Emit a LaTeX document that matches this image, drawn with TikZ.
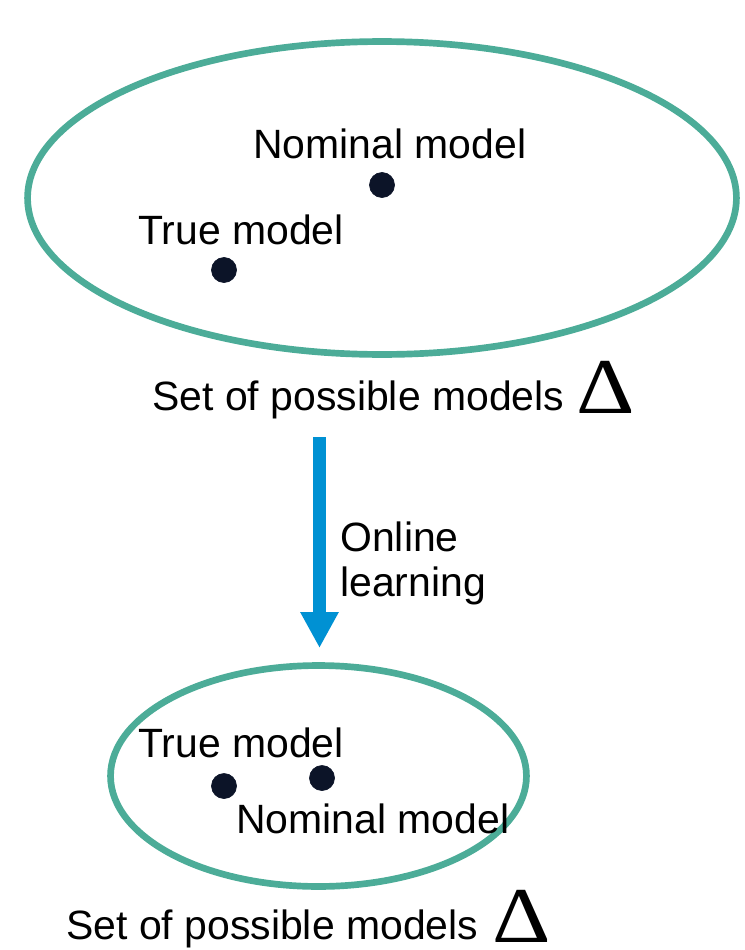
\documentclass[tikz,border=0pt]{standalone}
\usepackage{fontspec}
\setmainfont{Liberation Sans}
\newfontfamily\deltafont{Liberation Serif}
\usetikzlibrary{arrows.meta, shapes.geometric}
\definecolor{setgreen}{RGB}{76,172,152}
\definecolor{arrowblue}{RGB}{0,145,211}
\definecolor{dotnavy}{RGB}{12,20,40}

\begin{document}
\begin{tikzpicture}[x=0.02cm,y=-0.02cm,
  set node/.style={ellipse,draw=setgreen,line width=3.8pt,inner sep=0pt},
  model node/.style={circle,fill=dotnavy,draw=dotnavy,inner sep=0pt,minimum size=0.5cm},
  text node/.style={anchor=base west,inner sep=0pt,font=\fontsize{23.3}{28}\selectfont},
  delta node/.style={anchor=base west,inner sep=0pt,font=\fontsize{45}{46}\deltafont}]
  \useasboundingbox (0,0) rectangle (744,950);
  % before learning
  \node[set node, minimum width=14.18cm, minimum height=6.26cm] (bigset) at (382,198) {};
  \node[model node] (nom1) at (382,185) {};
  \node[model node] (true1) at (224,270) {};
  \node[text node] (nomtext1) at (253,158) {Nominal model};
  \node[text node] (truetext1) at (138,244) {True model};
  \node[text node] (settext1) at (152,410) {Set of possible models};
  \node[delta node] (delta1) at (576,413) {\scalebox{1.15}[1]{Δ}};
  % learning arrow
  \coordinate (arrowtop) at (319.5,437);
  \coordinate (arrowtip) at (319.5,648);
  \draw[arrowblue, line width=0.26cm, -{Triangle[length=0.72cm,width=0.72cm]}] (arrowtop) -- (arrowtip);
  \node[text node] (online) at (340,551) {Online};
  \node[text node] (learning) at (340,596) {learning};
  % after learning
  \node[set node, minimum width=8.32cm, minimum height=4.42cm] (smallset) at (318.5,776) {};
  \node[model node] (true2) at (224,786) {};
  \node[model node] (nom2) at (322,778) {};
  \node[text node] (truetext2) at (138,757) {True model};
  \node[text node] (nomtext2) at (236,833) {Nominal model};
  \node[text node] (settext2) at (66,939) {Set of possible models};
  \node[delta node] (delta2) at (492,942) {\scalebox{1.15}[1]{Δ}};
\end{tikzpicture}
\end{document}
